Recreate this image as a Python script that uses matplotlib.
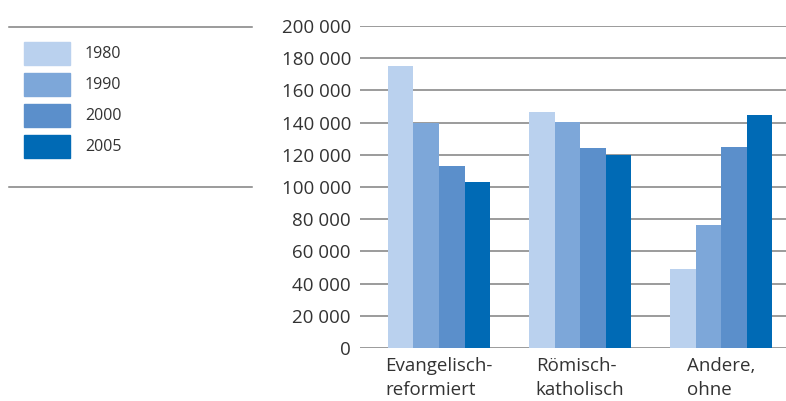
import numpy as np
import matplotlib.pyplot as plt
from matplotlib.patches import Rectangle

plt.rcParams['font.family'] = ['Open Sans', 'DejaVu Sans']

categories = ["Evangelisch-\nreformiert", "Römisch-\nkatholisch", "Andere,\nohne"]
years = ["1980", "1990", "2000", "2005"]
v1980 = [175000, 146500, 49000]
v1990 = [140000, 140300, 76500]
v2000 = [113000, 124000, 124800]
v2005 = [103000, 120000, 144800]
series = [v1980, v1990, v2000, v2005]
colors = ["#bad1ee", "#7da7d9", "#5b8fcb", "#006ab5"]
yticks = np.arange(0, 200001, 20000)

W, H = 786, 401
fig = plt.figure(figsize=(W / 100, H / 100), dpi=100)
ax = fig.add_axes([360 / W, 1 - 348 / H, 426 / W, 322 / H])

x = np.arange(len(categories))
bw = 0.181
for i, vals in enumerate(series):
    ax.bar(x + (i - 1.5) * bw, vals, bw, color=colors[i], zorder=3)

ax.set_ylim(0, 200000)
ax.set_xlim(-0.56, 2.46)
ax.set_yticks(yticks)
ax.set_yticklabels([f"{v:,}".replace(",", " ") for v in yticks])
ax.yaxis.grid(True, color="#808080", linewidth=1.1, zorder=0)
ax.set_xticks(x)
ax.set_xticklabels(categories, multialignment="left", linespacing=1.45)
ax.tick_params(axis="both", length=0, labelsize=13.5, colors="#333333")
ax.tick_params(axis="y", pad=6.5)
ax.tick_params(axis="x", pad=6.5)
for s in ax.spines.values():
    s.set_visible(False)

# legend block on the left, drawn in pixel coordinates
lg = fig.add_axes([0, 0, 262 / W, 1])
lg.set_xlim(0, 262)
lg.set_ylim(H, 0)
lg.axis("off")
lg.plot([9, 252], [27, 27], color="#808080", linewidth=1.1)
lg.plot([9, 252], [187, 187], color="#808080", linewidth=1.1)
for i, yr in enumerate(years):
    y0 = 42 + i * 31
    lg.add_patch(Rectangle((24, y0), 46, 22.5, color=colors[i]))
    lg.text(85, y0 + 12, yr, fontsize=11.5, color="#333333", va="center")

fig.savefig("out.png", dpi=100)
